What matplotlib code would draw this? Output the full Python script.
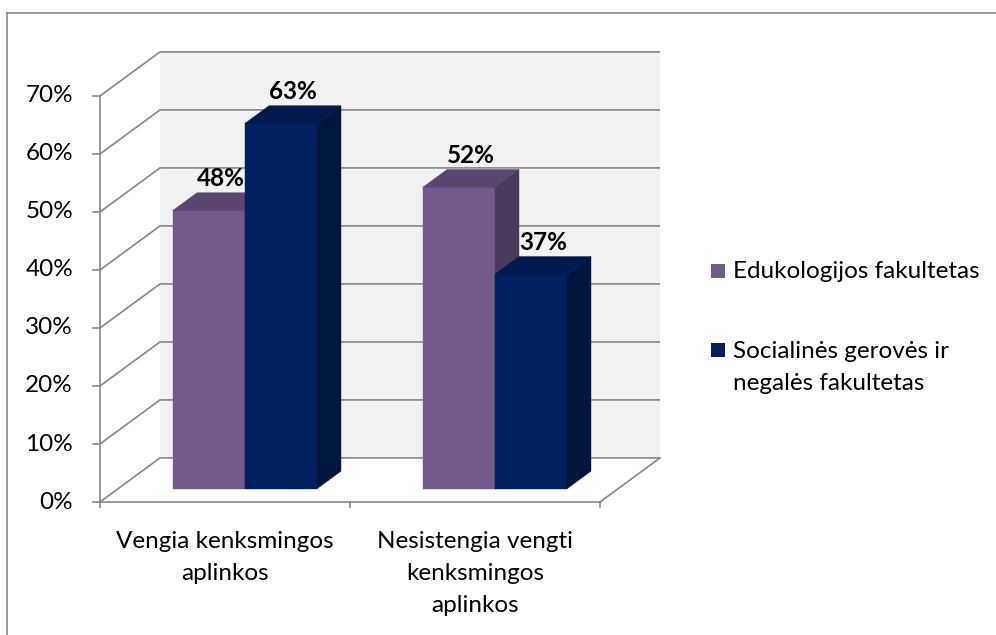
import matplotlib
matplotlib.use("Agg")
import matplotlib.pyplot as plt
from matplotlib.patches import Polygon, Rectangle
from matplotlib.lines import Line2D

# --- data -------------------------------------------------------------
categories = ["Vengia kenksmingos\naplinkos",
              "Nesistengia vengti\nkenksmingos\naplinkos"]
series_names = ["Edukologijos fakultetas",
                "Socialinės gerovės ir\nnegalės fakultetas"]
edukologijos = [48, 52]
socialines = [63, 37]
y_ticks = [0, 10, 20, 30, 40, 50, 60, 70]
y_tick_labels = ["0%", "10%", "20%", "30%", "40%", "50%", "60%", "70%"]

# --- style ------------------------------------------------------------
W, H = 996, 635
FONT = "Lato"
FS = 17.5
GRID = "#878787"
WALL = "#F2F2F2"
# (front, top, side) shades per series
SHADES = [("#735A8D", "#5B4672", "#4A3A5C"),
          ("#002060", "#001A4E", "#00163F")]

# oblique projection: moving through the full floor depth shifts a point
# by DX category units to the right and DY percent upwards
DX, DY = 0.24, 7.6
BAR_W = 0.288
GROUP_SHIFT = 0.008
Z0, Z1 = 0.30, 0.70
YMAX = 70


def proj(x, y, z):
    return x + z * DX, y + z * DY


def draw_box(ax, x0, x1, h, shades):
    front, top, side = shades
    faces = [
        ([proj(x0, 0, Z0), proj(x1, 0, Z0), proj(x1, h, Z0), proj(x0, h, Z0)], front),
        ([proj(x0, h, Z0), proj(x1, h, Z0), proj(x1, h, Z1), proj(x0, h, Z1)], top),
        ([proj(x1, 0, Z0), proj(x1, 0, Z1), proj(x1, h, Z1), proj(x1, h, Z0)], side),
    ]
    for pts, c in faces:
        ax.add_patch(Polygon(pts, closed=True, facecolor=c, edgecolor=c,
                             linewidth=0.3, zorder=5))


fig = plt.figure(figsize=(W / 100, H / 100), dpi=100)
ax = fig.add_axes([0, 0, 1, 1])
ax.set_xlim(-0.4, 3.584)
ax.set_ylim(-22.93, 86.55)
ax.axis("off")

n_cat = len(categories)

# back wall
ax.add_patch(Polygon([proj(0, 0, 1), proj(n_cat, 0, 1),
                      proj(n_cat, YMAX, 1), proj(0, YMAX, 1)],
                     closed=True, facecolor=WALL, edgecolor="none", zorder=1))

# gridlines: side-wall diagonal then across the back wall
for v in y_ticks:
    p0, p1, p2 = proj(0, v, 0), proj(0, v, 1), proj(n_cat, v, 1)
    ax.plot([p0[0], p1[0], p2[0]], [p0[1], p1[1], p2[1]],
            color=GRID, lw=1.2, zorder=2, solid_capstyle="butt")
    ax.plot([-0.028, 0], [v, v], color=GRID, lw=1.2, zorder=2)

# floor front and right edges, value axis
f1 = proj(n_cat, 0, 1)
ax.plot([0, n_cat, f1[0]], [0, 0, f1[1]], color=GRID, lw=1.2, zorder=2)
ax.plot([0, 0], [0, YMAX], color=GRID, lw=1.2, zorder=2)
for i in range(n_cat + 1):
    ax.plot([i, i], [0, -0.9], color=GRID, lw=1.2, zorder=2)

# bars, purple drawn first so the blue box covers its side face
for s, values in enumerate([edukologijos, socialines]):
    for i, v in enumerate(values):
        center = i + 0.5 + GROUP_SHIFT
        x0 = center - BAR_W + s * BAR_W
        x1 = x0 + BAR_W
        draw_box(ax, x0, x1, v, SHADES[s])
        lx = proj((x0 + x1) / 2, v, (Z0 + Z1) / 2)[0]
        ly = proj(0, v, Z1)[1]
        ax.annotate(f"{v}%", xy=(lx, ly), xytext=(0, 2),
                    textcoords="offset points", ha="center", va="bottom",
                    fontsize=FS, fontweight="bold", family=FONT, zorder=6)

# value labels
for v, lab in zip(y_ticks, y_tick_labels):
    ax.text(-0.108, v, lab, ha="right", va="center", fontsize=FS, family=FONT)

# category labels
for i, lab in enumerate(categories):
    ax.text(i + 0.5, -5.0, lab, ha="center", va="top", fontsize=FS,
            family=FONT, linespacing=1.66)

# legend (anchored on the baseline of each entry's last line)
legend_rows = [271, 350]
for s, name in enumerate(series_names):
    yc = legend_rows[s]
    n_lines = name.count("\n")
    fig.add_artist(Rectangle((711 / W, 1 - (yc + 7) / H), 14 / W, 14 / H,
                             transform=fig.transFigure,
                             facecolor=SHADES[s][0], edgecolor="none"))
    fig.text(733 / W, 1 - (yc + 7 + 33 * n_lines) / H, name, ha="left",
             va="baseline", fontsize=FS, family=FONT, linespacing=1.62)

# chart border (top and left edges)
fig.add_artist(Line2D([7 / W, 1], [1 - 13 / H, 1 - 13 / H],
                      transform=fig.transFigure, color=GRID, lw=1.2))
fig.add_artist(Line2D([7 / W, 7 / W], [0, 1 - 13 / H],
                      transform=fig.transFigure, color=GRID, lw=1.2))

fig.savefig("out.png", dpi=100)
